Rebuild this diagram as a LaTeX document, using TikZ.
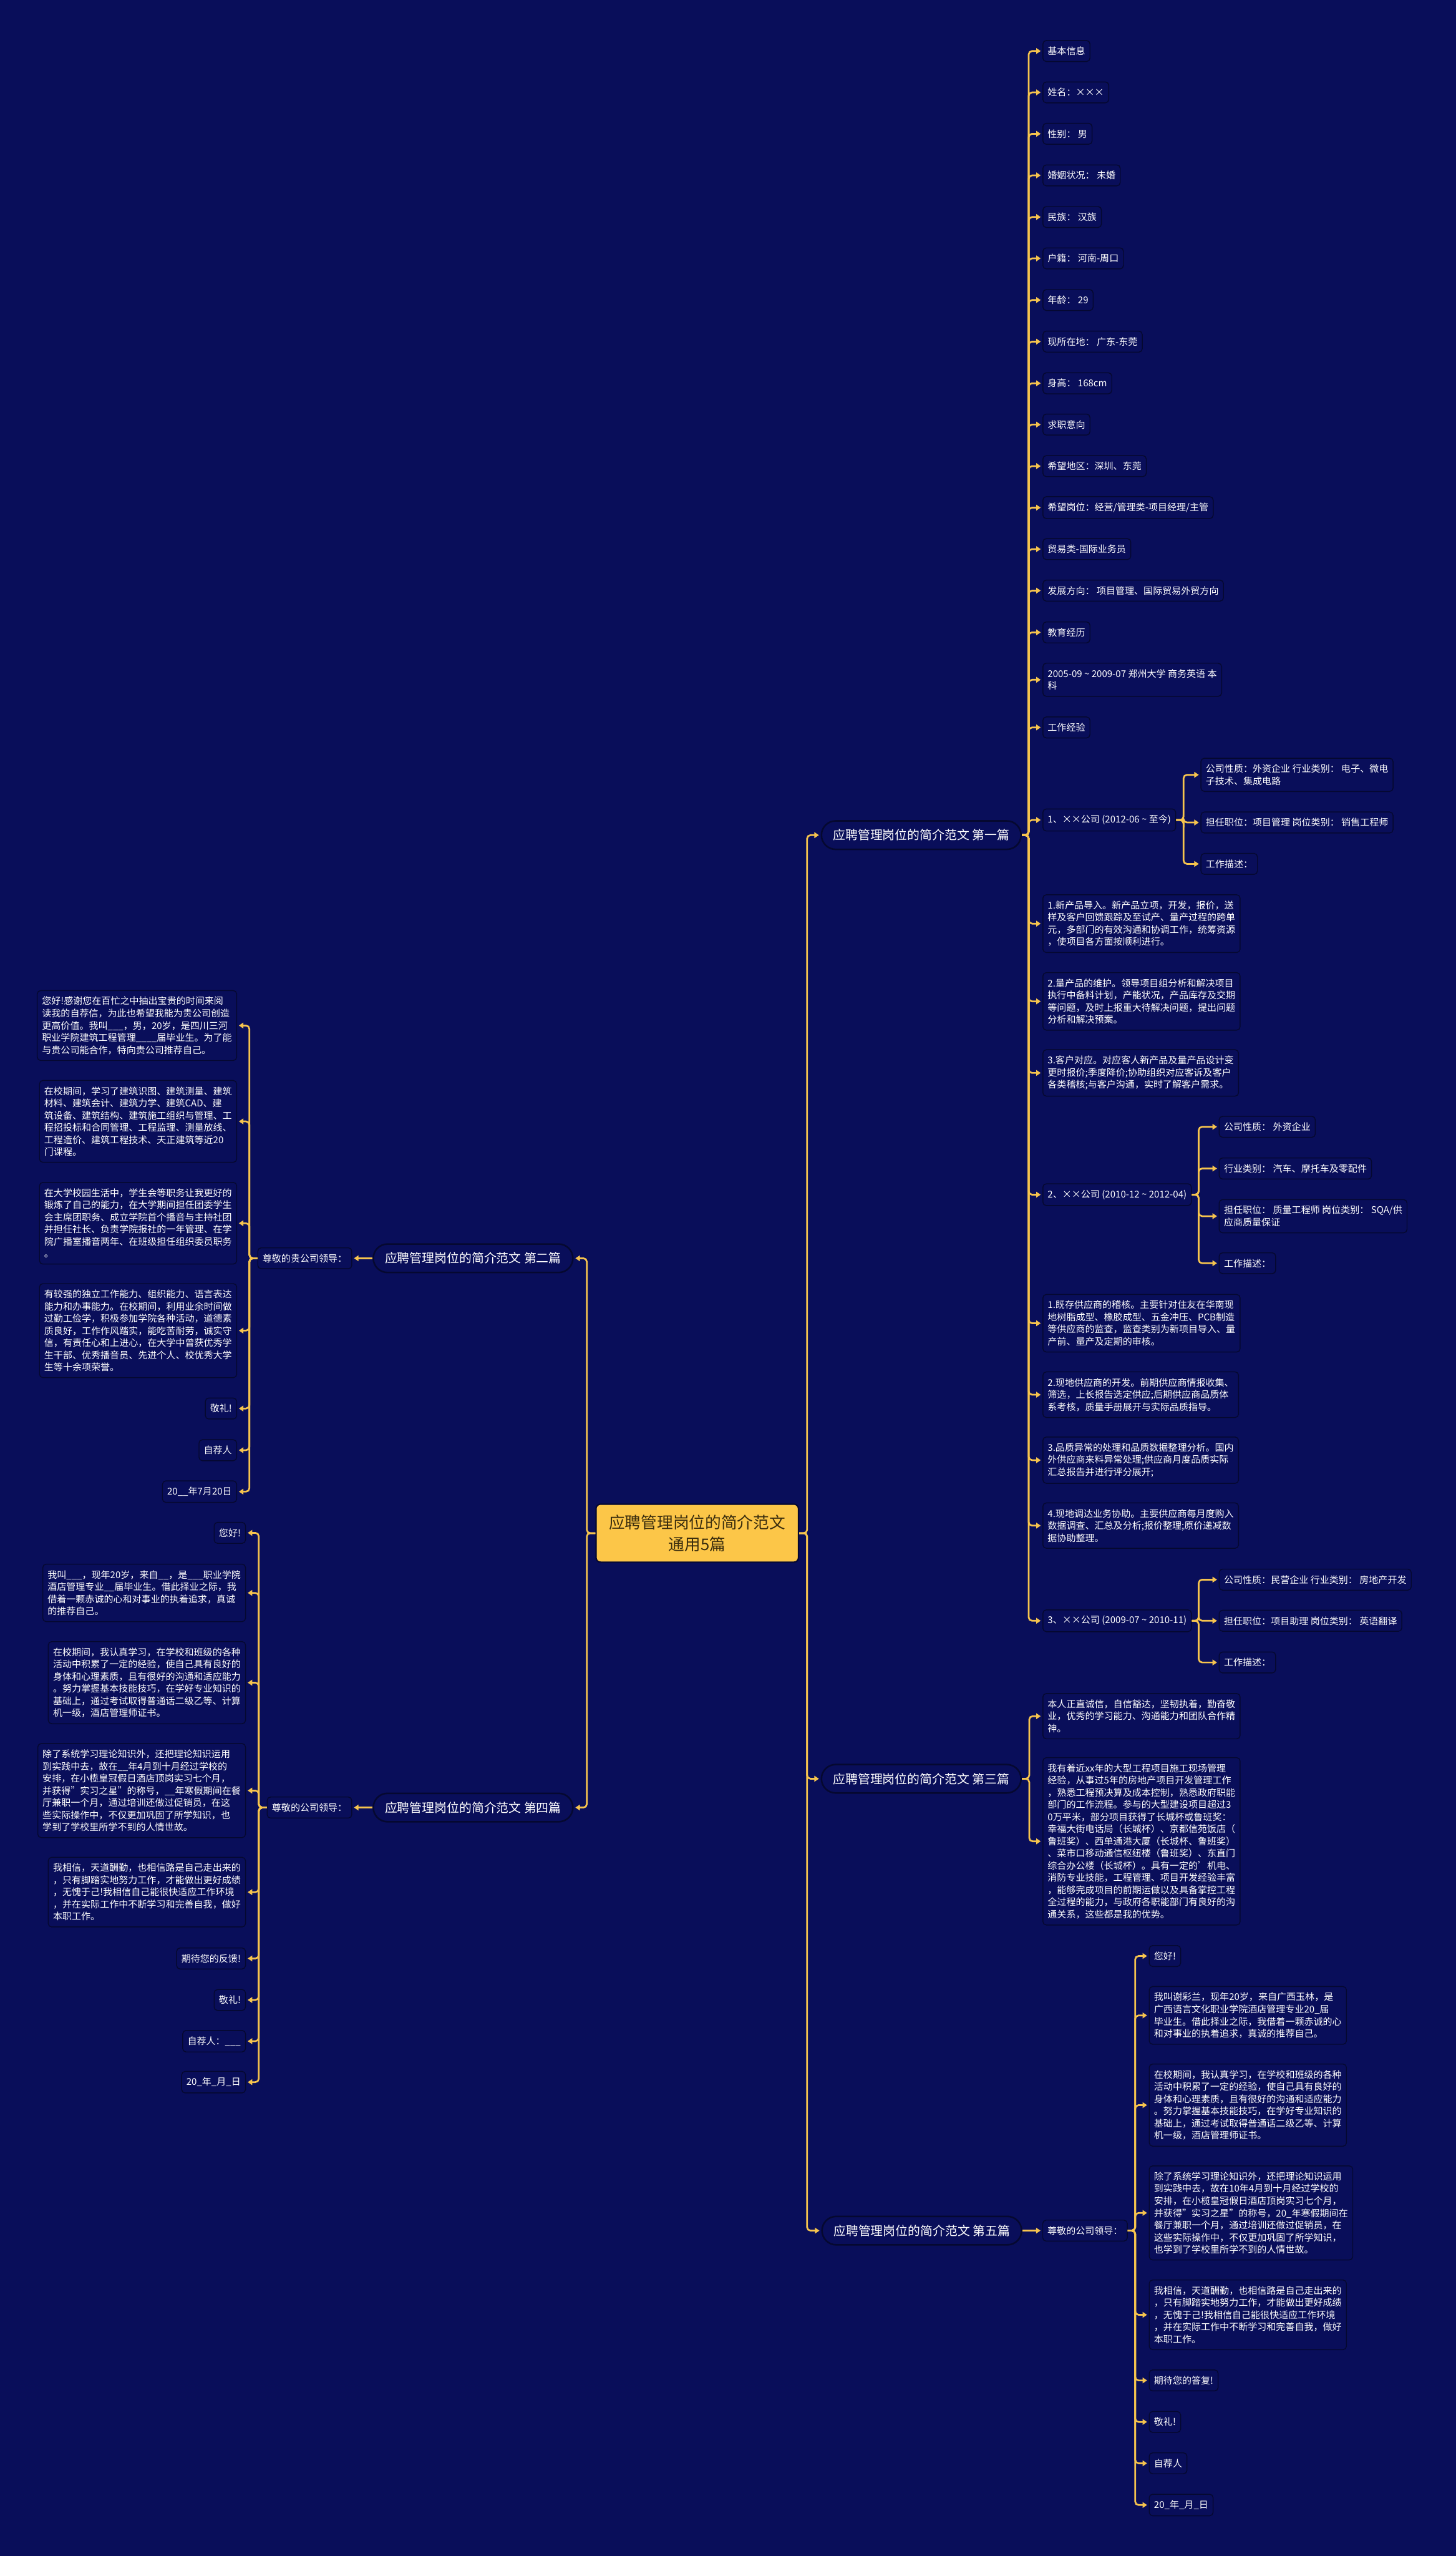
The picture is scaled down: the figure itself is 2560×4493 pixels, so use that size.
\documentclass[tikz,border=0pt]{standalone}
\usepackage{fontspec}
\setmainfont{Noto Sans CJK SC}
\usetikzlibrary{arrows.meta}
\definecolor{bgblue}{RGB}{9,14,90}
\definecolor{linegold}{RGB}{246,196,78}
\definecolor{boxline}{RGB}{5,8,48}
\definecolor{rootfill}{RGB}{252,198,72}
\definecolor{roottext}{RGB}{58,45,14}
\newcommand{\leaffont}{\fontsize{8.25pt}{10.7pt}\selectfont}
\newcommand{\pillfont}{\fontsize{10.9pt}{13pt}\selectfont}
\newcommand{\rootfont}{\fontsize{14.1pt}{19pt}\selectfont}

\begin{document}
\begin{tikzpicture}[x=0.5pt,y=-0.5pt,
    leaf/.style={draw=boxline,line width=0.8pt,fill=bgblue,rounded corners=3pt,
      text=white,font=\leaffont,align=left,inner xsep=4.2pt,inner ysep=5.4pt},
    pill/.style={draw=boxline,line width=1.4pt,fill=bgblue,rounded corners=12.5pt,
      text=white,font=\pillfont,minimum width=175.5pt,minimum height=25pt},
    link/.style={draw=linegold,line width=1.5pt,rounded corners=3pt,
      -{Triangle[length=4pt,width=5pt]},shorten >=1.5pt}]

        \fill[bgblue] (0,0) rectangle (2560,4493);
        \useasboundingbox (0,0) rectangle (2560,4493);

        % Centre
        \node[draw=boxline,line width=1.2pt,fill=rootfill,text=roottext,rounded corners=4pt,
          font=\rootfont,align=center,minimum width=178pt,minimum height=51pt] (root) at (1226,2695)
          {应聘管理岗位的简介范文\\通用5篇};

        % Pieces
        \node[pill,anchor=west] (p1) at (1443,1468) {应聘管理岗位的简介范文 第一篇};
        \node[pill,anchor=west] (p3) at (1443,3126.7) {应聘管理岗位的简介范文 第三篇};
        \node[pill,anchor=west] (p5) at (1444,3921) {应聘管理岗位的简介范文 第五篇};
        \node[pill,anchor=east] (p2) at (1008.75,2211.8) {应聘管理岗位的简介范文 第二篇};
        \node[pill,anchor=east] (p4) at (1008.75,3177.3) {应聘管理岗位的简介范文 第四篇};

        % Piece 1: resume
        \node[leaf,anchor=west] (a1) at (1833,89.7) {基本信息};
        \node[leaf,anchor=west] (a2) at (1833,162.4) {姓名：×××};
        \node[leaf,anchor=west] (a3) at (1833,235.2) {性别： 男};
        \node[leaf,anchor=west] (a4) at (1833,308.3) {婚姻状况： 未婚};
        \node[leaf,anchor=west] (a5) at (1833,381.5) {民族： 汉族};
        \node[leaf,anchor=west] (a6) at (1833,454.2) {户籍： 河南-周口};
        \node[leaf,anchor=west] (a7) at (1833,527.4) {年龄： 29};
        \node[leaf,anchor=west] (a8) at (1833,600.5) {现所在地： 广东-东莞};
        \node[leaf,anchor=west] (a9) at (1833,673.7) {身高： 168cm};
        \node[leaf,anchor=west] (a10) at (1833,746.3) {求职意向};
        \node[leaf,anchor=west] (a11) at (1833,819.3) {希望地区：深圳、东莞};
        \node[leaf,anchor=west] (a12) at (1833,892.3) {希望岗位：经营/管理类-项目经理/主管};
        \node[leaf,anchor=west] (a13) at (1833,965.2) {贸易类-国际业务员};
        \node[leaf,anchor=west] (a14) at (1833,1038.2) {发展方向： 项目管理、国际贸易外贸方向};
        \node[leaf,anchor=west] (a15) at (1833,1111.6) {教育经历};
        \node[leaf,anchor=west] (a16) at (1833,1194.9) {2005-09 \textasciitilde{} 2009-07 郑州大学 商务英语 本\\科};
        \node[leaf,anchor=west] (a17) at (1833,1278.7) {工作经验};

        \node[leaf,anchor=west] (c1) at (1833,1441.4) {1、××公司 (2012-06 \textasciitilde{} 至今)};
        \node[leaf,anchor=west] (c1a) at (2111,1362) {公司性质：外资企业 行业类别： 电子、微电\\子技术、集成电路};
        \node[leaf,anchor=west] (c1b) at (2111,1445.8) {担任职位：项目管理 岗位类别： 销售工程师};
        \node[leaf,anchor=west] (c1c) at (2111,1518.6) {工作描述：};
        \node[leaf,anchor=west] (d1) at (1833,1623.6) {1.新产品导入。新产品立项，开发，报价，送\\样及客户回馈跟踪及至试产、量产过程的跨单\\元，多部门的有效沟通和协调工作，统筹资源\\，使项目各方面按顺利进行。};
        \node[leaf,anchor=west] (d2) at (1833,1760.2) {2.量产品的维护。领导项目组分析和解决项目\\执行中备料计划，产能状况，产品库存及交期\\等问题，及时上报重大待解决问题，提出问题\\分析和解决预案。};
        \node[leaf,anchor=west] (d3) at (1833,1886) {3.客户对应。对应客人新产品及量产品设计变\\更时报价;季度降价;协助组织对应客诉及客户\\各类稽核;与客户沟通，实时了解客户需求。};

        \node[leaf,anchor=west] (c2) at (1833,2100) {2、××公司 (2010-12 \textasciitilde{} 2012-04)};
        \node[leaf,anchor=west] (c2a) at (2143,1980.7) {公司性质： 外资企业};
        \node[leaf,anchor=west] (c2b) at (2143,2054) {行业类别： 汽车、摩托车及零配件};
        \node[leaf,anchor=west] (c2c) at (2143,2137.8) {担任职位： 质量工程师 岗位类别： SQA/供\\应商质量保证};
        \node[leaf,anchor=west] (c2d) at (2143,2220.5) {工作描述：};
        \node[leaf,anchor=west] (e1) at (1833,2326) {1.既存供应商的稽核。主要针对住友在华南现\\地树脂成型、橡胶成型、五金冲压、PCB制造\\等供应商的监查，监查类别为新项目导入、量\\产前、量产及定期的审核。};
        \node[leaf,anchor=west] (e2) at (1833,2451.6) {2.现地供应商的开发。前期供应商情报收集、\\筛选，上长报告选定供应;后期供应商品质体\\系考核，质量手册展开与实际品质指导。};
        \node[leaf,anchor=west] (e3) at (1833,2566.7) {3.品质异常的处理和品质数据整理分析。国内\\外供应商来料异常处理;供应商月度品质实际\\汇总报告并进行评分展开;};
        \node[leaf,anchor=west] (e4) at (1833,2681.7) {4.现地调达业务协助。主要供应商每月度购入\\数据调查、汇总及分析;报价整理;原价递减数\\据协助整理。};

        \node[leaf,anchor=west] (c3) at (1833,2849) {3、××公司 (2009-07 \textasciitilde{} 2010-11)};
        \node[leaf,anchor=west] (c3a) at (2143,2776.7) {公司性质：民营企业 行业类别： 房地产开发};
        \node[leaf,anchor=west] (c3b) at (2143,2849) {担任职位：项目助理 岗位类别： 英语翻译};
        \node[leaf,anchor=west] (c3c) at (2143,2922.3) {工作描述：};

        % Piece 3
        \node[leaf,anchor=west] (t1) at (1833,3016.7) {本人正直诚信，自信豁达，坚韧执着，勤奋敬\\业，优秀的学习能力、沟通能力和团队合作精\\神。};
        \node[leaf,anchor=west] (t2) at (1833,3236.7) {我有着近xx年的大型工程项目施工现场管理\\经验，从事过5年的房地产项目开发管理工作\\，熟悉工程预决算及成本控制，熟悉政府职能\\部门的工作流程。参与的大型建设项目超过3\\0万平米，部分项目获得了长城杯或鲁班奖：\\幸福大街电话局（长城杯）、京都信苑饭店（\\鲁班奖）、西单通港大厦（长城杯、鲁班奖）\\、菜市口移动通信枢纽楼（鲁班奖）、东直门\\综合办公楼（长城杯）。具有一定的'机电、\\消防专业技能，工程管理、项目开发经验丰富\\，能够完成项目的前期运做以及具备掌控工程\\全过程的能力，与政府各职能部门有良好的沟\\通关系，这些都是我的优势。};

        % Piece 5
        \node[leaf,anchor=west] (g5) at (1832.7,3921) {尊敬的公司领导：};
        \node[leaf,anchor=west] (f1) at (2020,3438.3) {您好!};
        \node[leaf,anchor=west] (f2) at (2020,3542.7) {我叫谢彩兰，现年20岁，来自广西玉林，是\\广西语言文化职业学院酒店管理专业20\_届\\毕业生。借此择业之际，我借着一颗赤诚的心\\和对事业的执着追求，真诚的推荐自己。};
        \node[leaf,anchor=west] (f3) at (2020,3700.4) {在校期间，我认真学习，在学校和班级的各种\\活动中积累了一定的经验，使自己具有良好的\\身体和心理素质，且有很好的沟通和适应能力\\。努力掌握基本技能技巧，在学好专业知识的\\基础上，通过考试取得普通话二级乙等、计算\\机一级，酒店管理师证书。};
        \node[leaf,anchor=west] (f4) at (2020,3889.9) {除了系统学习理论知识外，还把理论知识运用\\到实践中去，故在10年4月到十月经过学校的\\安排，在小榄皇冠假日酒店顶岗实习七个月，\\并获得"实习之星"的称号，20\_年寒假期间在\\餐厅兼职一个月，通过培训还做过促销员，在\\这些实际操作中，不仅更加巩固了所学知识，\\也学到了学校里所学不到的人情世故。};
        \node[leaf,anchor=west] (f5) at (2020,4069) {我相信，天道酬勤，也相信路是自己走出来的\\，只有脚踏实地努力工作，才能做出更好成绩\\，无愧于己!我相信自己能很快适应工作环境\\，并在实际工作中不断学习和完善自我，做好\\本职工作。};
        \node[leaf,anchor=west] (f6) at (2020,4184.3) {期待您的答复!};
        \node[leaf,anchor=west] (f7) at (2020,4257.3) {敬礼!};
        \node[leaf,anchor=west] (f8) at (2020,4330) {自荐人};
        \node[leaf,anchor=west] (f9) at (2020,4403.3) {20\_年\_月\_日};

        % Piece 2
        \node[leaf,anchor=east] (g2) at (619.4,2211.8) {尊敬的贵公司领导：};
        \node[leaf,anchor=east] (h1) at (417,1802.7) {您好!感谢您在百忙之中抽出宝贵的时间来阅\\读我的自荐信，为此也希望我能为贵公司创造\\更高价值。我叫\_\_\_，男，20岁，是四川三河\\职业学院建筑工程管理\_\_\_\_届毕业生。为了能\\与贵公司能合作，特向贵公司推荐自己。};
        \node[leaf,anchor=east] (h2) at (417,1971.2) {在校期间，学习了建筑识图、建筑测量、建筑\\材料、建筑会计、建筑力学、建筑CAD、建\\筑设备、建筑结构、建筑施工组织与管理、工\\程招投标和合同管理、工程监理、测量放线、\\工程造价、建筑工程技术、天正建筑等近20\\门课程。};
        \node[leaf,anchor=east] (h3) at (417,2150.2) {在大学校园生活中，学生会等职务让我更好的\\锻炼了自己的能力，在大学期间担任团委学生\\会主席团职务、成立学院首个播音与主持社团\\并担任社长、负责学院报社的一年管理、在学\\院广播室播音两年、在班级担任组织委员职务\\。};
        \node[leaf,anchor=east] (h4) at (417,2339) {有较强的独立工作能力、组织能力、语言表达\\能力和办事能力。在校期间，利用业余时间做\\过勤工俭学，积极参加学院各种活动，道德素\\质良好，工作作风踏实，能吃苦耐劳，诚实守\\信，有责任心和上进心，在大学中曾获优秀学\\生干部、优秀播音员、先进个人、校优秀大学\\生等十余项荣誉。};
        \node[leaf,anchor=east] (h5) at (417,2475.9) {敬礼!};
        \node[leaf,anchor=east] (h6) at (417,2549.2) {自荐人};
        \node[leaf,anchor=east] (h7) at (417,2622) {20\_\_年7月20日};

        % Piece 4
        \node[leaf,anchor=east] (g4) at (619.4,3177.3) {尊敬的公司领导：};
        \node[leaf,anchor=east] (k1) at (432.5,2694.5) {您好!};
        \node[leaf,anchor=east] (k2) at (432.5,2800) {我叫\_\_\_，现年20岁，来自\_\_，是\_\_\_职业学院\\酒店管理专业\_\_届毕业生。借此择业之际，我\\借着一颗赤诚的心和对事业的执着追求，真诚\\的推荐自己。};
        \node[leaf,anchor=east] (k3) at (432.5,2957.8) {在校期间，我认真学习，在学校和班级的各种\\活动中积累了一定的经验，使自己具有良好的\\身体和心理素质，且有很好的沟通和适应能力\\。努力掌握基本技能技巧，在学好专业知识的\\基础上，通过考试取得普通话二级乙等、计算\\机一级，酒店管理师证书。};
        \node[leaf,anchor=east] (k4) at (432.5,3147.5) {除了系统学习理论知识外，还把理论知识运用\\到实践中去，故在\_\_年4月到十月经过学校的\\安排，在小榄皇冠假日酒店顶岗实习七个月，\\并获得"实习之星"的称号，\_\_年寒假期间在餐\\厅兼职一个月，通过培训还做过促销员，在这\\些实际操作中，不仅更加巩固了所学知识，也\\学到了学校里所学不到的人情世故。};
        \node[leaf,anchor=east] (k5) at (432.5,3326) {我相信，天道酬勤，也相信路是自己走出来的\\，只有脚踏实地努力工作，才能做出更好成绩\\，无愧于己!我相信自己能很快适应工作环境\\，并在实际工作中不断学习和完善自我，做好\\本职工作。};
        \node[leaf,anchor=east] (k6) at (432.5,3442.6) {期待您的反馈!};
        \node[leaf,anchor=east] (k7) at (432.5,3515.6) {敬礼!};
        \node[leaf,anchor=east] (k8) at (432.5,3588) {自荐人：\_\_\_};
        \node[leaf,anchor=east] (k9) at (432.5,3660) {20\_年\_月\_日};

        % Connectors
        \foreach \n in {p1,p3,p5} \draw[link] (root.east) -- ++(14,0) |- (\n.west);
        \foreach \n in {p2,p4} \draw[link] (root.west) -- ++(-15,0) |- (\n.east);

        \foreach \i in {1,...,17} \draw[link] (p1.east) -- ++(12,0) |- (a\i.west);
        \foreach \n in {c1,d1,d2,d3,c2,e1,e2,e3,e4,c3} \draw[link] (p1.east) -- ++(12,0) |- (\n.west);
        \foreach \n in {c1a,c1b,c1c} \draw[link] (c1.east) -- ++(13,0) |- (\n.west);
        \foreach \n in {c2a,c2b,c2c,c2d} \draw[link] (c2.east) -- ++(12,0) |- (\n.west);
        \foreach \n in {c3a,c3b,c3c} \draw[link] (c3.east) -- ++(12,0) |- (\n.west);

        \foreach \n in {t1,t2} \draw[link] (p3.east) -- ++(13,0) |- (\n.west);

        \draw[link] (p5.east) -- (g5.west);
        \foreach \i in {1,...,9} \draw[link] (g5.east) -- ++(13,0) |- (f\i.west);

        \draw[link] (p2.west) -- (g2.east);
        \foreach \i in {1,...,7} \draw[link] (g2.west) -- ++(-14,0) |- (h\i.east);

        \draw[link] (p4.west) -- (g4.east);
        \foreach \i in {1,...,9} \draw[link] (g4.west) -- ++(-14,0) |- (k\i.east);
    \end{tikzpicture}
\end{document}
